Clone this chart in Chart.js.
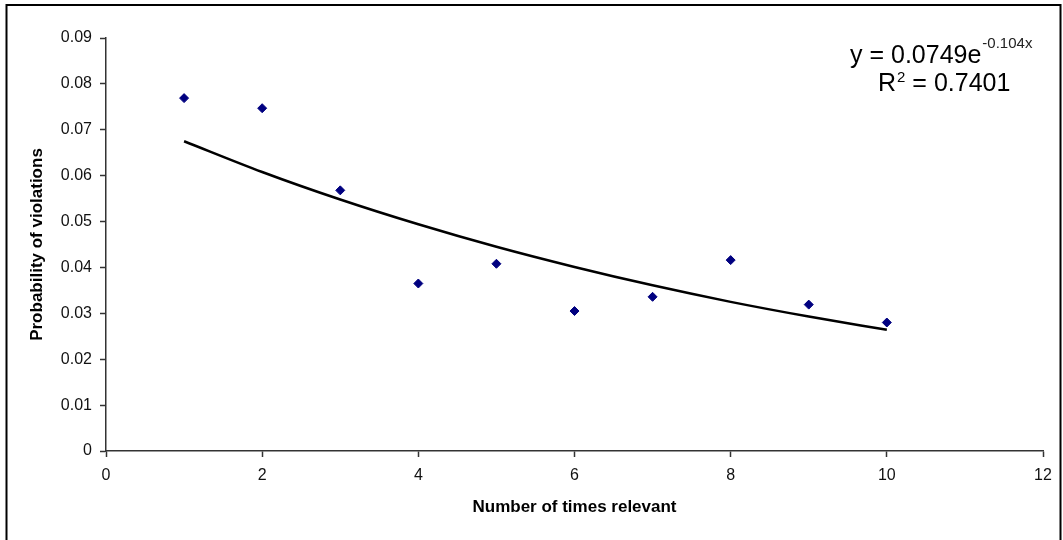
<!DOCTYPE html>
<html>
<head>
<meta charset="utf-8">
<script src="https://cdn.jsdelivr.net/npm/chart.js@4/dist/chart.umd.min.js"></script>
<style>
  html, body { margin: 0; padding: 0; background: #fff; }
  #wrap { width: 1063px; height: 540px; position: relative; }
</style>
</head>
<body>
<div id="wrap"><canvas id="myChart" width="1063" height="540"></canvas></div>
<script>
const timesRelevant = [1, 2, 3, 4, 5, 6, 7, 8, 9, 10];
const violationProb = [0.0769, 0.0747, 0.0568, 0.0365, 0.0408, 0.0305, 0.0336, 0.0416, 0.0319, 0.0280];
// trendline (matches the printed fit)
const trendValues = [0.0675, 0.0608, 0.0548, 0.0494, 0.0445, 0.0401, 0.0361, 0.0325, 0.0293, 0.0264];
const xTicks = [0, 2, 4, 6, 8, 10, 12];
const yTicks = [0, 0.01, 0.02, 0.03, 0.04, 0.05, 0.06, 0.07, 0.08, 0.09];

const font = "'Liberation Sans', Arial, sans-serif";

// chart frame + equation text, like the excel trendline label
const extras = {
    id: 'extras',
    afterDraw(chart) {
        const c = chart.ctx;
        c.save();
        c.strokeStyle = '#000';
        c.lineWidth = 2;
        c.beginPath();
        c.moveTo(6.5, 545);
        c.lineTo(6.5, 5);
        c.lineTo(1060.5, 5);
        c.lineTo(1060.5, 545);
        c.stroke();

        c.fillStyle = '#000';
        c.textBaseline = 'alphabetic';
        c.textAlign = 'left';
        c.font = '25px ' + font;
        const eq = 'y = 0.0749e';
        c.fillText(eq, 850, 63);
        let w = c.measureText(eq).width;
        c.font = '15px ' + font;
        c.fillStyle = '#222';
        c.fillText('-0.104x', 850 + w + 1, 48);

        c.fillStyle = '#000';
        c.font = '25px ' + font;
        c.fillText('R', 878, 91);
        w = c.measureText('R').width;
        c.font = '15px ' + font;
        c.fillText('2', 878 + w + 1, 82);
        const w2 = c.measureText('2').width;
        c.font = '25px ' + font;
        c.fillText(' = 0.7401', 878 + w + w2 + 1, 91);
        c.restore();
    }
};

const ctx = document.getElementById('myChart').getContext('2d');
let myChart = new Chart(ctx, {
    type: 'scatter',
    data: {
        datasets: [
            {
                label: 'Probability',
                data: timesRelevant.map((x, i) => ({x: x, y: violationProb[i]})),
                pointStyle: 'rectRot',
                pointRadius: 4.5,
                backgroundColor: '#000080',
                borderColor: '#000080',
                borderWidth: 1,
                order: 1
            },
            {
                label: 'Trend',
                type: 'line',
                data: timesRelevant.map((x, i) => ({x: x, y: trendValues[i]})),
                borderColor: '#000',
                borderWidth: 2.5,
                pointRadius: 0,
                tension: 0.4,
                cubicInterpolationMode: 'monotone',
                fill: false,
                order: 2
            }
        ]
    },
    plugins: [extras],
    options: {
        responsive: false,
        animation: false,
        layout: { padding: { left: 0, top: 38, right: 20, bottom: 0 } },
        plugins: {
            legend: { display: false },
            tooltip: { enabled: false }
        },
        scales: {
            x: {
                type: 'linear',
                min: 0,
                max: 12,
                afterBuildTicks: s => { s.ticks = xTicks.map(v => ({value: v})); },
                afterFit: s => { s.height = 89; },
                grid: { drawOnChartArea: false, tickLength: 6, tickColor: '#333', tickWidth: 1.5 },
                border: { color: '#333', width: 1.5 },
                ticks: { color: '#111', padding: 9, font: { family: font, size: 16 } },
                title: {
                    display: true,
                    text: 'Number of times relevant',
                    color: '#000',
                    font: { family: font, size: 17, weight: 'bold' },
                    padding: { top: 0, bottom: 22 }
                }
            },
            y: {
                min: 0,
                max: 0.09,
                afterBuildTicks: s => { s.ticks = yTicks.map(v => ({value: v})); },
                afterFit: s => { s.width = 106; },
                grid: { drawOnChartArea: false, tickLength: 6, tickColor: '#333', tickWidth: 1.5 },
                border: { color: '#333', width: 1.5 },
                ticks: {
                    color: '#111',
                    padding: 8,
                    font: { family: font, size: 16 },
                    callback: v => v === 0 ? '0' : v.toFixed(2)
                },
                title: {
                    display: true,
                    text: 'Probability of violations',
                    color: '#000',
                    font: { family: font, size: 17, weight: 'bold' },
                    padding: { top: 27, bottom: 0 }
                }
            }
        }
    }
});
</script>
</body>
</html>
